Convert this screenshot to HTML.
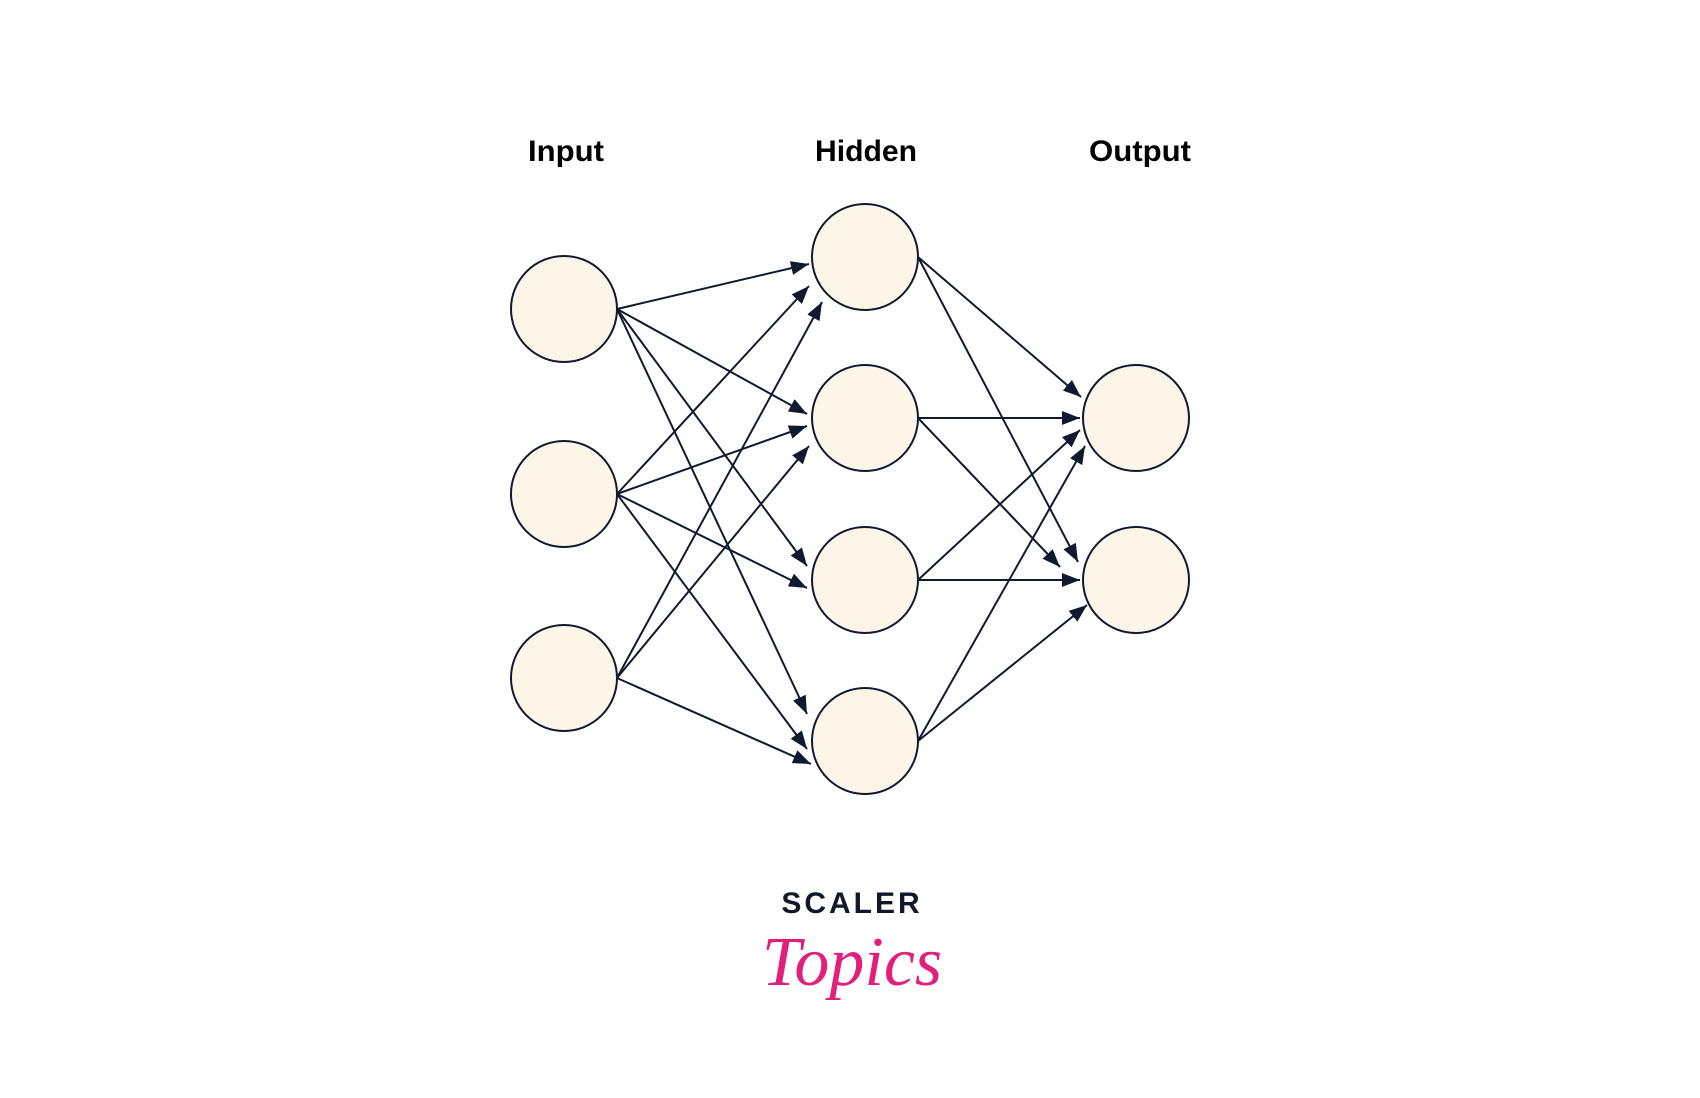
<!DOCTYPE html>
<html><head><meta charset="utf-8"><style>
html,body{margin:0;padding:0;background:#fff;}
svg{display:block}
</style></head><body>
<svg id="s" width="1700" height="1098" viewBox="0 0 1700 1098" xmlns="http://www.w3.org/2000/svg">
<defs><marker id="a" viewBox="0 0 18 14" refX="18" refY="7" markerWidth="18" markerHeight="14" markerUnits="userSpaceOnUse" orient="auto"><path d="M0,0 L18,7 L0,14 z" fill="#0f1a2e"/></marker></defs>
<g font-family="Liberation Sans, sans-serif" font-weight="bold" font-size="30" fill="#000" text-anchor="middle">
<text x="566" y="161" textLength="76" lengthAdjust="spacingAndGlyphs">Input</text>
<text x="866" y="161" textLength="102" lengthAdjust="spacingAndGlyphs">Hidden</text>
<text x="1140" y="161" textLength="102" lengthAdjust="spacingAndGlyphs">Output</text>
</g>
<g id="edges" stroke="#0f1a2e" stroke-width="2" fill="none"></g>
<g id="nodes" fill="#fdf5e8" stroke="#0f1a2e" stroke-width="2"></g>
<text x="852" y="913" font-family="Liberation Sans, sans-serif" font-weight="bold" font-size="30" fill="#111827" text-anchor="middle" letter-spacing="3">SCALER</text>
<text x="852" y="985" font-family="Liberation Serif, serif" font-style="italic" font-size="70" fill="#e0207a" text-anchor="middle">Topics</text>
</svg>
<script>
var r=53,ns='http://www.w3.org/2000/svg';
var L=[[564,309],[564,494],[564,678]];
var H=[[865,257],[865,418],[865,580],[865,741]];
var O=[[1136,418],[1136,580]];
var E=[
[617,309,809,264],[617,309,807,414],[617,309,807,566],[617,309,807,714],
[617,494,809,286],[617,494,807,426],[617,494,807,588],[617,494,807,749],
[617,678,822,302],[617,678,809,446],[617,678,811,764],
[918,257,1081,397],[918,257,1078,562],
[918,418,1080,418],[918,418,1060,567],
[918,580,1080,430],[918,580,1080,580],
[918,741,1085,446],[918,741,1087,605]];
var e=document.getElementById('edges'),n=document.getElementById('nodes');
E.forEach(function(p){var l=document.createElementNS(ns,'line');l.setAttribute('x1',p[0]);l.setAttribute('y1',p[1]);l.setAttribute('x2',p[2]);l.setAttribute('y2',p[3]);l.setAttribute('marker-end','url(#a)');e.appendChild(l);});
L.concat(H,O).forEach(function(c){var q=document.createElementNS(ns,'circle');q.setAttribute('cx',c[0]);q.setAttribute('cy',c[1]);q.setAttribute('r',r);n.appendChild(q);});
</script>
</body></html>
